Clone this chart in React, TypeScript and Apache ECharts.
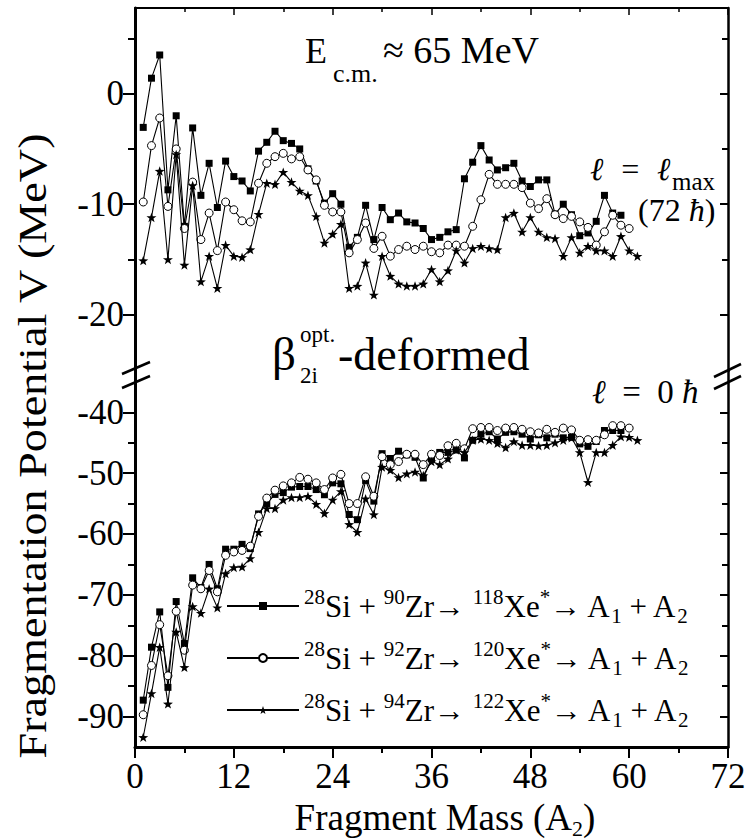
import React, { useEffect, useRef } from "react";
import * as echarts from "echarts";

const SERIF = "Liberation Serif";

// axis ticks
const massMin = 0;
const massMax = 72;
const massStep = 12;
const topMajor = [-20, -10, 0];
const topMinor = [-15, -5, 5];
const botMajor = [-90, -80, -70, -60, -50, -40];
const botMinor = [-85, -75, -65, -55, -45];

// legend content
const legendNames = ["Xe118", "Xe120", "Xe122"];
const targetMass = [90, 92, 94];
const compoundMass = [118, 120, 122];

// l = lmax (72 hbar), fragment mass A2 = 1, 2, 3, ...
const lmaxXe118 = [
  -3.05, 1.4, 3.5, -8.7, -2.0, -12.0, -3.1, -9.2, -6.3, -10.3,
  -6.1, -7.5, -7.9, -8.8, -5.2, -4.4, -3.4, -4.25, -4.5, -5.0,
  -6.8, -7.9, -9.9, -9.05, -10.0, -13.9, -13.0, -10.1, -13.2, -10.3,
  -11.4, -10.8, -11.6, -11.7, -12.2, -13.2, -13.0, -12.5, -12.3, -7.7,
  -6.2, -4.7, -6.0, -6.9, -6.7, -6.3, -7.9, -8.4, -7.8, -7.8,
  -10.9, -10.0, -10.95, -12.85, -12.6, -11.55, -9.2, -10.8, -11.0,
];
const lmaxXe120 = [
  -9.8, -4.7, -2.2, -10.2, -5.0, -12.2, -8.0, -13.2, -10.8, -14.2,
  -9.8, -10.5, -11.5, -11.6, -8.1, -6.3, -5.7, -5.4, -5.9, -5.7,
  -6.9, -7.8, -10.1, -10.7, -10.7, -14.4, -13.2, -11.7, -14.0, -12.9,
  -14.7, -14.1, -13.8, -14.1, -13.8, -14.3, -14.4, -13.7, -13.7, -13.8,
  -12.0, -9.6, -7.3, -8.2, -8.2, -8.2, -8.5, -9.9, -10.4, -9.5,
  -10.95, -11.3, -11.1, -11.6, -12.1, -13.7, -12.5, -11.0, -11.9, -12.2,
];
const lmaxXe122 = [
  -15.1, -11.2, -7.0, -15.0, -5.5, -15.5, -8.3, -17.0, -14.7, -17.6,
  -13.7, -14.7, -14.8, -14.1, -10.9, -8.1, -8.2, -7.1, -8.0, -8.8,
  -9.2, -11.1, -13.5, -12.7, -11.8, -17.6, -17.4, -15.3, -18.2, -14.7,
  -16.5, -17.2, -17.4, -17.4, -17.2, -15.9, -17.0, -16.0, -14.2, -15.3,
  -14.0, -13.8, -14.0, -14.1, -11.2, -10.8, -12.5, -11.2, -12.5, -13.0,
  -13.1, -14.7, -13.0, -14.4, -13.8, -14.2, -14.2, -14.7, -12.9, -14.2,
  -14.7,
];

// l = 0 hbar
const l0Xe118 = [
  -87.3, -78.6, -72.8, -85.2, -71.1, -78.0, -67.2, -68.8, -65.0, -69.0,
  -62.5, -62.5, -61.7, -62.4, -56.7, -55.0, -53.5, -53.2, -52.3, -52.2,
  -52.2, -52.7, -53.55, -51.6, -51.75, -56.8, -57.65, -51.2, -54.6, -46.8,
  -47.6, -46.4, -47.0, -47.4, -50.8, -47.65, -46.6, -46.6, -46.2, -47.5,
  -44.6, -43.6, -43.2, -44.4, -43.3, -43.2, -43.6, -44.4, -43.7, -44.2,
  -43.6, -44.2, -44.1, -45.2, -45.6, -44.8, -43.0, -43.0, -43.0,
];
const l0Xe120 = [
  -89.7, -81.6, -74.9, -83.3, -72.7, -79.1, -68.4, -69.0, -66.0, -69.5,
  -63.5, -62.95, -62.7, -62.0, -57.1, -54.1, -52.8, -52.1, -51.6, -50.7,
  -51.0, -51.6, -52.7, -50.8, -50.2, -55.0, -55.0, -50.6, -53.8, -47.3,
  -48.6, -48.1, -46.9, -46.9, -48.6, -46.9, -47.1, -45.5, -45.1, -46.0,
  -42.7, -42.5, -42.5, -43.0, -42.6, -42.5, -42.8, -43.2, -43.4, -42.8,
  -43.3, -42.6, -42.9, -44.6, -44.5, -44.6, -43.7, -42.2, -42.2, -42.6,
];
const l0Xe122 = [
  -93.4, -86.2, -78.6, -87.9, -76.1, -81.9, -71.9, -73.0, -69.0, -72.1,
  -66.5, -65.5, -65.4, -64.0, -59.7, -55.8, -55.8, -54.4, -54.0, -54.0,
  -53.8, -55.1, -56.6, -54.4, -53.0, -58.4, -59.7, -54.2, -56.8, -49.0,
  -49.5, -50.7, -50.1, -49.8, -50.4, -48.1, -48.6, -47.65, -46.2, -46.6,
  -44.6, -44.4, -44.6, -45.1, -45.8, -44.8, -45.4, -45.4, -45.5, -45.4,
  -45.0, -44.6, -44.2, -46.6, -51.5, -46.6, -46.6, -45.4, -44.0, -44.1,
  -44.6,
];

const STAR =
  "path://M10,0 L12.35,6.76 L19.51,6.91 L13.8,11.24 L15.88,18.09 L10,14 L4.12,18.09 L6.2,11.24 L0.49,6.91 L7.65,6.76 Z";

const markers = [
  { symbol: "rect", symbolSize: 7, itemStyle: { color: "#000", borderColor: "#000", borderWidth: 0 } },
  { symbol: "circle", symbolSize: 8, itemStyle: { color: "#fff", borderColor: "#000", borderWidth: 1 } },
  { symbol: STAR, symbolSize: 10, itemStyle: { color: "#000", borderColor: "#000", borderWidth: 0 } },
];

const pairs = (vals: number[]) => vals.map((v, i) => [i + 1, v]);

function buildOption() {
  const black = "#000";
  const topSets = [lmaxXe118, lmaxXe120, lmaxXe122];
  const botSets = [l0Xe118, l0Xe120, l0Xe122];
  const series: any[] = [];
  const addSeries = (sets: number[][], xi: number, yi: number) => {
    sets.forEach((vals, k) => {
      series.push({
        name: legendNames[k],
        type: "line",
        xAxisIndex: xi,
        yAxisIndex: yi,
        data: pairs(vals),
        symbol: markers[k].symbol,
        symbolSize: markers[k].symbolSize,
        symbolKeepAspect: true,
        itemStyle: markers[k].itemStyle,
        lineStyle: { color: black, width: 1.1 },
        showAllSymbol: true,
        z: 3 + k,
      });
    });
  };
  addSeries(topSets, 0, 0);
  addSeries(botSets, 1, 4);

  const topMin = -25.09;
  const topMax = 7.75;
  const botMin = -95;
  const botMax = -33.22;

  const yAx = (grid: number, min: number, max: number, pos: string, ticks: number[], len: number, inside: boolean, line: boolean, labels: boolean, lw: number) => ({
    type: "value",
    gridIndex: grid,
    min,
    max,
    position: pos,
    axisLine: { show: line, onZero: false, lineStyle: { color: black, width: lw } },
    axisTick: { show: true, inside, length: len, customValues: ticks, lineStyle: { color: black, width: 2 } },
    axisLabel: labels
      ? { show: true, customValues: ticks, fontFamily: SERIF, fontSize: 35, color: black, margin: 11 }
      : { show: false },
    splitLine: { show: false },
    minorTick: { show: false },
  });

  const legendText: Record<string, string> = {};
  legendNames.forEach((n, k) => {
    legendText[n] =
      `{sup|28}{m|Si + }{sup|${targetMass[k]}}{m|Zr→ }{sup|${compoundMass[k]}}{m|Xe}{sup|*}{m|→ A}{sub|1}{m| + A}{sub|2}`;
  });

  const txt = (x: number, y: number, text: string, size: number, extra: any = {}) => ({
    type: "text",
    x,
    y,
    silent: true,
    style: {
      text,
      fontFamily: SERIF,
      fontSize: size,
      fill: black,
      align: "left",
      verticalAlign: "middle",
      ...extra,
    },
  });

  const brk = (x1: number, y1: number, x2: number, y2: number) => ({
    type: "line",
    silent: true,
    shape: { x1, y1, x2, y2 },
    style: { stroke: black, lineWidth: 2.5 },
    z: 10,
  });

  return {
    animation: false,
    backgroundColor: "#fff",
    textStyle: { fontFamily: SERIF },
    grid: [
      { left: 135, top: 8, width: 593, height: 363, containLabel: false, outerBoundsMode: "none" },
      { left: 135, top: 371, width: 593, height: 376, containLabel: false, outerBoundsMode: "none" },
    ],
    xAxis: [
      {
        type: "value",
        gridIndex: 0,
        position: "top",
        min: massMin,
        max: massMax,
        interval: massStep,
        axisLine: { show: true, onZero: false, lineStyle: { color: black, width: 2 } },
        axisTick: { show: true, inside: true, length: 7, lineStyle: { color: black, width: 1.5 } },
        minorTick: { show: true, splitNumber: 2, length: 4, lineStyle: { color: black, width: 1.5 } },
        axisLabel: { show: false },
        splitLine: { show: false },
      },
      {
        type: "value",
        gridIndex: 1,
        position: "bottom",
        min: massMin,
        max: massMax,
        interval: massStep,
        axisLine: { show: true, onZero: false, lineStyle: { color: black, width: 3 } },
        axisTick: { show: true, inside: false, length: 11, lineStyle: { color: black, width: 2 } },
        minorTick: { show: true, splitNumber: 2, length: 6, lineStyle: { color: black, width: 2 } },
        axisLabel: { show: true, fontFamily: SERIF, fontSize: 35, color: black, margin: 12 },
        splitLine: { show: false },
        name: "{m|Fragment Mass (A}{sub|2}{m|)}",
        nameLocation: "middle",
        nameGap: 48,
        nameTextStyle: {
          padding: [0, 0, 0, 27],
          rich: {
            m: { fontFamily: SERIF, fontSize: 37, lineHeight: 44, color: black },
            sub: { fontFamily: SERIF, fontSize: 22, lineHeight: 12, verticalAlign: "bottom", color: black },
          },
        },
      },
    ],
    yAxis: [
      yAx(0, topMin, topMax, "left", topMajor, 12, false, true, true, 3),
      yAx(0, topMin, topMax, "left", topMinor, 7, false, false, false, 3),
      yAx(0, topMin, topMax, "right", topMajor, 8, true, true, false, 2.5),
      yAx(0, topMin, topMax, "right", topMinor, 6, true, false, false, 2.5),
      yAx(1, botMin, botMax, "left", botMajor, 12, false, true, true, 3),
      yAx(1, botMin, botMax, "left", botMinor, 7, false, false, false, 3),
      yAx(1, botMin, botMax, "right", botMajor, 8, true, true, false, 2.5),
      yAx(1, botMin, botMax, "right", botMinor, 6, true, false, false, 2.5),
    ],
    legend: {
      orient: "vertical",
      left: 221,
      top: 581,
      itemWidth: 72,
      itemHeight: 10,
      itemGap: 12,
      selectedMode: false,
      data: legendNames,
      formatter: (name: string) => legendText[name],
      textStyle: {
        fontFamily: SERIF,
        fontSize: 31,
        color: black,
        rich: {
          m: { fontFamily: SERIF, fontSize: 31, lineHeight: 40, color: black },
          sup: { fontFamily: SERIF, fontSize: 21, lineHeight: 22, verticalAlign: "top", color: black },
          sub: { fontFamily: SERIF, fontSize: 21, lineHeight: 10, verticalAlign: "bottom", color: black },
        },
      },
    },
    graphic: [
      {
        type: "text",
        x: 32,
        y: 446,
        rotation: Math.PI / 2,
        scaleX: 1.126,
        silent: true,
        style: {
          text: "Fragmentation Potential V (MeV)",
          fontFamily: SERIF,
          fontSize: 41,
          fill: black,
          align: "center",
          verticalAlign: "middle",
        },
      },
      txt(305, 51, "E", 36),
      txt(333, 73, "c.m.", 26),
      txt(383, 50, "≈ 65 MeV", 38),
      txt(590, 169, "ℓ  =  ℓ", 32, { fontStyle: "italic" }),
      txt(672, 181.5, "max", 25),
      {
        type: "text",
        x: 638,
        y: 210,
        silent: true,
        style: {
          text: "{n|(72 }{i|ħ}{n|)}",
          fill: black,
          align: "left",
          verticalAlign: "middle",
          rich: {
            n: { fontFamily: SERIF, fontSize: 32, color: black },
            i: { fontFamily: SERIF, fontSize: 32, fontStyle: "italic", color: black },
          },
        },
      },
      {
        type: "text",
        x: 592,
        y: 392,
        silent: true,
        style: {
          text: "{i|ℓ}{n|  =  0 }{i|ħ}",
          fill: black,
          align: "left",
          verticalAlign: "middle",
          rich: {
            n: { fontFamily: SERIF, fontSize: 33, color: black },
            i: { fontFamily: SERIF, fontSize: 33, fontStyle: "italic", color: black },
          },
        },
      },
      txt(272, 354, "β", 47),
      txt(300, 334, "opt.", 23),
      txt(300, 375, "2i", 23),
      txt(338, 354.5, "-deformed", 46),
      brk(122, 374, 150, 362),
      brk(122, 388, 150, 376),
      brk(714, 377, 741, 364),
      brk(714, 389, 741, 376),
    ],
    series,
  };
}

const fontCss = `.frag-chart svg text, .frag-chart svg tspan { font-family: "Liberation Serif", "Times New Roman", serif !important; }`;

export default function App() {
  const ref = useRef<HTMLDivElement>(null);
  useEffect(() => {
    if (!ref.current) return;
    const chart = echarts.init(ref.current, undefined, { renderer: "svg" });
    chart.setOption(buildOption() as any);
    return () => {
      chart.dispose();
    };
  }, []);
  return (
    <>
      <style>{fontCss}</style>
      <div
        ref={ref}
        className="frag-chart"
        style={{ position: "fixed", left: 0, top: 0, width: 747, height: 840, background: "#fff" }}
      />
    </>
  );
}
